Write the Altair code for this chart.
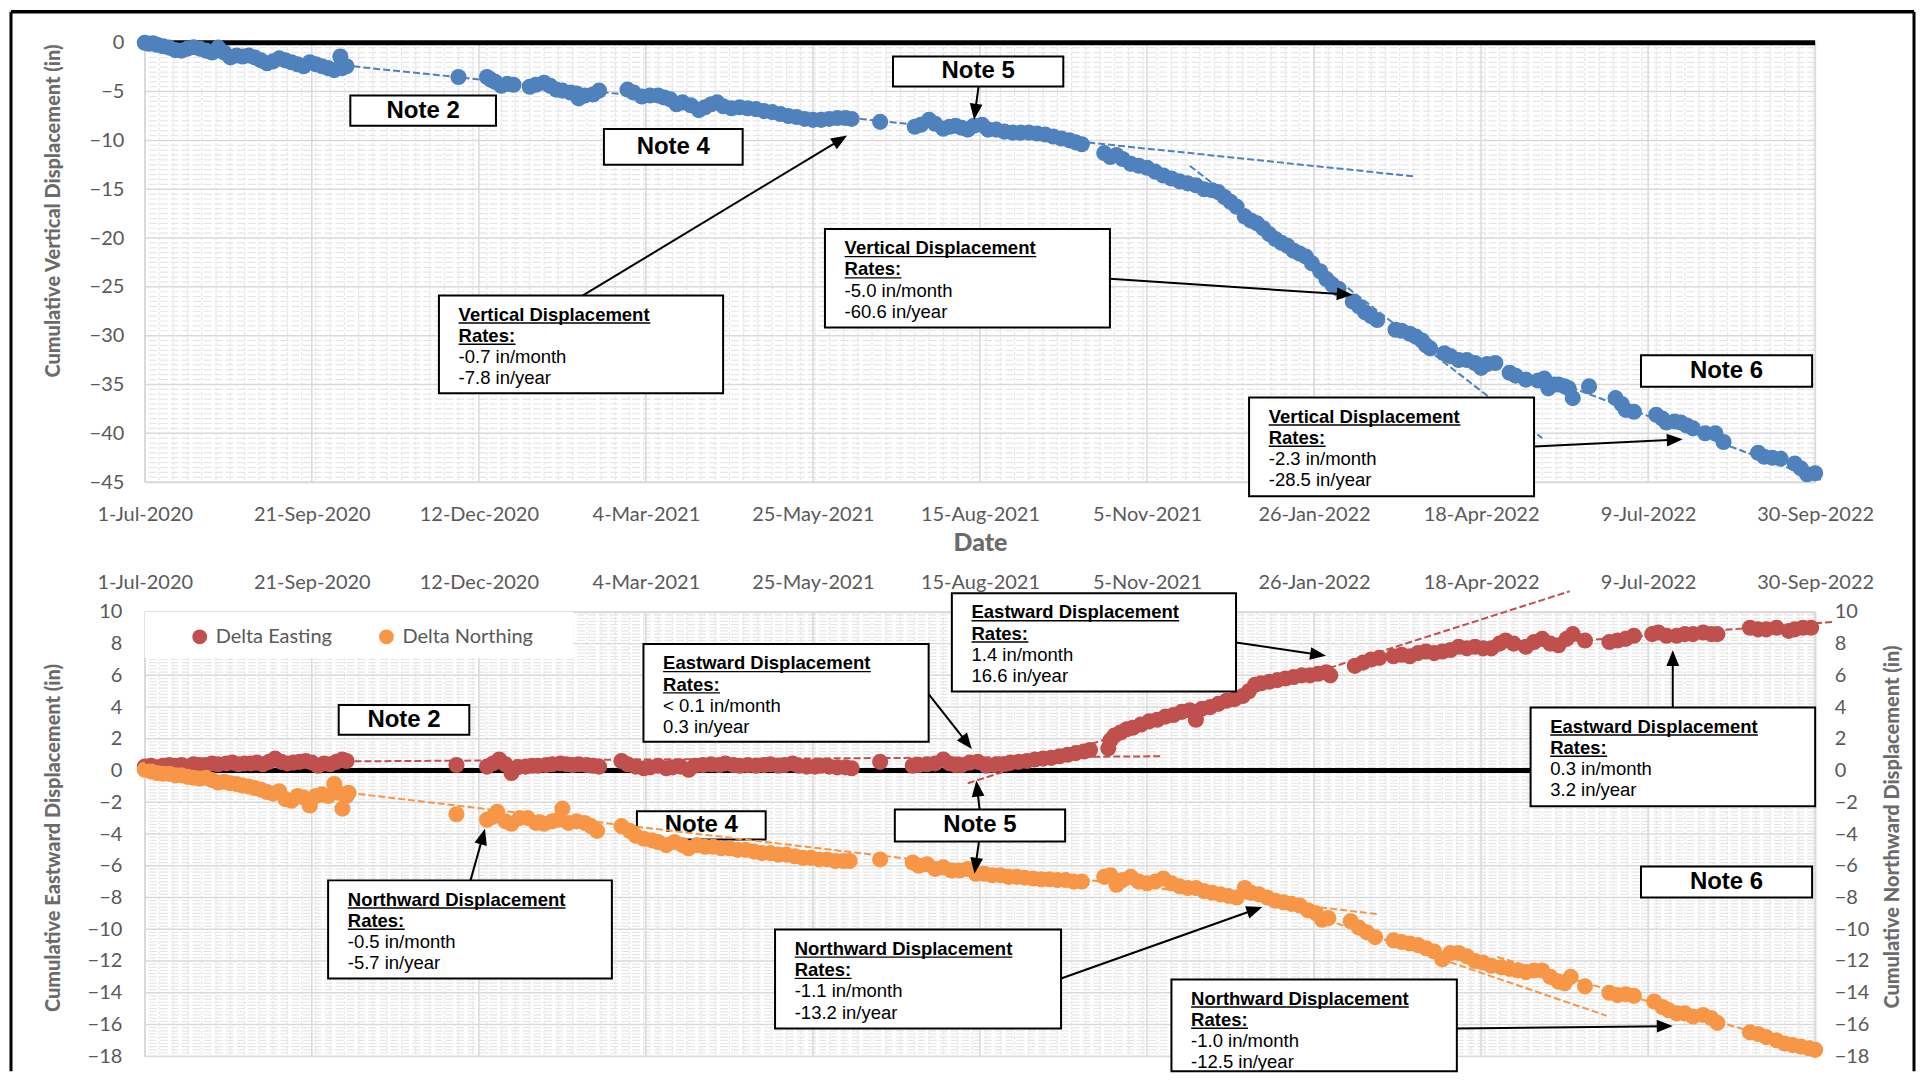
import json
import math
import altair as alt
import pandas as pd

# ------------------------------------------------------------------ data
# x = days since 1-Jul-2020, y = cumulative displacement (inches)
tick_days = [0, 82, 164, 246, 328, 410, 492, 574, 656, 738, 820]
tick_labels = ["1-Jul-2020", "21-Sep-2020", "12-Dec-2020", "4-Mar-2021", "25-May-2021",
               "15-Aug-2021", "5-Nov-2021", "26-Jan-2022", "18-Apr-2022", "9-Jul-2022",
               "30-Sep-2022"]

vert_pts = [
    (0, 0.0), (2, -0.1), (4, -0.05), (6, -0.2), (9, -0.35), (12, -0.5), (15, -0.75), (18, -0.8),
    (21, -0.6), (24, -0.45), (27, -0.6), (30, -0.8), (33, -1.0), (36, -0.5), (39, -1.0), (42, -1.5),
    (45, -1.3), (48, -1.4), (51, -1.3), (54, -1.5), (57, -1.8), (60, -2.1), (63, -1.9), (66, -1.6),
    (69, -1.8), (72, -2.0), (75, -2.2), (78, -2.4), (81, -2.0), (84, -2.2), (87, -2.4), (90, -2.6),
    (93, -2.8), (96, -1.4), (97, -2.6), (99, -2.4),
    (154, -3.5), (168, -3.5), (170, -3.8), (172, -4.0), (175, -4.4), (178, -4.2), (181, -4.3),
    (189, -4.5), (192, -4.3), (196, -4.1), (199, -4.4), (202, -4.8), (205, -4.9), (209, -5.1),
    (212, -5.2), (213, -5.7), (216, -5.4), (220, -5.3), (223, -4.9),
    (237, -4.8), (240, -5.1), (244, -5.5), (248, -5.4), (252, -5.4), (255, -5.6), (258, -5.8),
    (261, -6.3), (264, -6.1), (268, -6.4), (272, -6.9), (275, -6.6), (278, -6.3), (281, -6.1),
    (284, -6.5), (288, -6.7), (292, -6.6), (296, -6.7), (300, -6.8), (304, -7.0), (308, -7.1),
    (312, -7.3), (316, -7.5), (320, -7.6), (324, -7.8), (328, -7.9), (332, -7.9), (336, -7.8),
    (340, -7.7), (344, -7.7), (347, -7.8),
    (361, -8.1), (378, -8.6), (381, -8.4), (385, -7.9), (388, -8.3), (392, -8.8), (395, -8.6),
    (398, -8.5), (401, -8.7), (404, -8.9), (407, -8.5), (411, -8.4), (414, -8.9), (418, -8.9),
    (422, -9.1), (426, -9.2), (430, -9.2), (434, -9.2), (438, -9.3), (442, -9.4), (446, -9.6),
    (450, -9.8), (454, -10.0), (457, -10.2), (460, -10.4),
    (471, -11.3), (474, -11.7), (477, -11.5), (480, -11.9), (484, -12.4), (488, -12.6),
    (492, -12.8), (496, -13.2), (500, -13.6), (504, -13.9), (508, -14.2), (512, -14.4),
    (516, -14.6), (520, -15.0), (524, -15.1), (527, -15.3), (530, -15.8), (533, -16.3),
    (536, -16.8), (540, -17.8), (543, -18.2), (546, -18.5), (549, -19.0), (552, -19.6),
    (555, -20.1), (558, -20.5), (561, -20.8), (564, -21.3), (567, -21.6), (570, -21.9),
    (573, -22.6), (577, -23.4), (580, -24.2), (583, -24.8), (586, -25.2), (593, -26.5),
    (596, -27.0), (599, -27.6), (602, -28.0), (605, -28.4), (614, -29.4), (617, -29.5),
    (621, -29.8), (624, -30.1), (627, -30.5), (629, -31.0), (631, -31.3), (638, -31.8),
    (641, -32.1), (645, -32.5), (649, -32.5), (653, -32.8), (656, -33.3), (659, -32.9),
    (663, -32.8), (670, -33.8), (673, -34.1), (678, -34.5), (684, -34.6), (687, -34.4),
    (689, -35.4), (692, -35.0), (694, -35.0), (697, -35.2), (699, -35.4), (701, -36.4),
    (709, -35.2), (722, -36.4), (725, -37.0), (727, -37.6), (731, -37.8), (742, -38.1),
    (745, -38.5), (747, -38.9), (751, -38.8), (754, -38.9), (757, -39.2), (760, -39.5),
    (766, -40.0), (771, -40.0), (775, -40.9), (792, -42.0), (795, -42.4), (799, -42.5),
    (803, -42.6), (810, -43.1), (813, -43.6), (816, -44.2), (820, -44.1)]

east_pts = [
    (0, 0.25), (3, 0.3), (6, 0.2), (9, 0.3), (12, 0.35), (15, 0.3), (18, 0.35), (21, 0.25),
    (24, 0.4), (27, 0.35), (30, 0.35), (33, 0.45), (36, 0.4), (40, 0.45), (43, 0.5), (46, 0.4),
    (49, 0.45), (52, 0.45), (55, 0.5), (58, 0.4), (61, 0.55), (64, 0.75), (67, 0.55), (70, 0.45),
    (73, 0.5), (76, 0.55), (79, 0.6), (82, 0.5), (85, 0.3), (88, 0.45), (91, 0.4), (94, 0.55),
    (97, 0.7), (99, 0.6),
    (153, 0.35), (168, 0.25), (171, 0.45), (174, 0.7), (177, 0.4), (180, -0.15), (183, 0.2),
    (187, 0.25), (190, 0.3), (193, 0.3), (197, 0.35), (200, 0.4), (204, 0.45), (207, 0.4),
    (210, 0.35), (213, 0.4), (217, 0.35), (220, 0.3), (223, 0.25),
    (234, 0.6), (237, 0.4), (241, 0.25), (245, 0.15), (248, 0.2), (252, 0.3), (256, 0.15),
    (259, 0.2), (263, 0.25), (267, 0.05), (270, 0.3), (274, 0.35), (278, 0.4), (282, 0.35),
    (285, 0.45), (289, 0.35), (292, 0.3), (296, 0.35), (300, 0.3), (304, 0.35), (307, 0.4),
    (311, 0.3), (314, 0.35), (318, 0.45), (321, 0.3), (325, 0.25), (329, 0.25), (332, 0.3),
    (336, 0.25), (340, 0.2), (344, 0.2), (347, 0.15),
    (361, 0.55), (377, 0.3), (380, 0.35), (384, 0.4), (388, 0.45), (392, 0.7), (395, 0.45),
    (398, 0.35), (401, 0.35), (405, 0.5), (409, 0.55), (413, 0.3), (417, 0.35), (421, 0.4),
    (425, 0.5), (429, 0.55), (433, 0.6), (437, 0.7), (441, 0.75), (445, 0.8), (449, 0.9),
    (453, 1.0), (457, 1.1), (461, 1.2), (464, 1.3),
    (473, 1.4), (474, 1.9), (476, 2.2), (479, 2.4), (482, 2.6), (485, 2.7), (489, 2.9),
    (493, 3.1), (497, 3.2), (501, 3.4), (505, 3.5), (509, 3.7), (513, 3.8), (516, 3.2),
    (519, 3.9), (523, 4.0), (527, 4.2), (531, 4.4), (535, 4.5), (539, 4.7), (542, 5.0),
    (545, 5.4), (548, 5.5), (552, 5.6), (556, 5.7), (560, 5.8), (564, 5.9), (568, 6.0),
    (572, 6.0), (576, 6.1), (580, 6.2), (582, 6.0),
    (594, 6.6), (598, 6.8), (602, 7.0), (606, 7.1), (613, 7.2), (617, 7.3), (621, 7.2),
    (625, 7.4), (629, 7.5), (633, 7.4), (637, 7.5), (641, 7.6), (645, 7.8), (649, 7.7),
    (653, 7.8), (657, 7.7), (661, 7.7), (665, 8.0), (668, 8.2), (672, 8.0), (678, 7.8),
    (682, 8.1), (686, 8.3), (690, 8.0), (694, 7.9), (698, 8.3), (701, 8.6), (707, 8.2),
    (719, 8.1), (723, 8.2), (727, 8.3), (731, 8.5), (740, 8.6), (743, 8.7), (747, 8.5),
    (752, 8.5), (756, 8.6), (760, 8.6), (765, 8.7), (769, 8.6), (772, 8.6), (788, 9.0),
    (792, 8.9), (796, 8.9), (801, 9.0), (807, 8.8), (810, 8.9), (814, 9.0), (818, 9.0)]

north_pts = [
    (0, 0.05), (3, -0.05), (6, -0.15), (9, -0.2), (12, -0.2), (15, -0.3), (18, -0.3), (21, -0.4),
    (24, -0.45), (27, -0.5), (30, -0.45), (33, -0.6), (36, -0.75), (39, -0.7), (42, -0.8),
    (45, -0.85), (48, -0.95), (51, -1.0), (54, -1.1), (57, -1.2), (60, -1.35), (63, -1.45),
    (66, -1.3), (69, -1.8), (72, -1.9), (75, -1.6), (78, -1.7), (81, -2.2), (84, -1.6),
    (87, -1.5), (90, -1.6), (93, -0.85), (95, -1.4), (97, -2.4), (99, -1.6), (100, -1.4),
    (153, -2.75), (168, -3.1), (171, -2.9), (173, -2.6), (177, -3.2), (180, -3.35), (184, -3.0),
    (188, -3.0), (192, -3.3), (196, -3.35), (200, -3.2), (203, -3.1), (205, -2.4), (208, -3.3),
    (212, -3.2), (216, -3.3), (219, -3.5), (222, -3.8),
    (234, -3.5), (238, -3.8), (241, -4.1), (245, -4.3), (249, -4.4), (252, -4.5), (256, -4.7),
    (260, -4.5), (264, -4.7), (267, -4.9), (271, -4.7), (275, -4.8), (279, -4.8), (283, -4.9),
    (287, -4.9), (291, -5.0), (295, -5.0), (299, -5.1), (303, -5.2), (307, -5.2), (311, -5.3),
    (315, -5.3), (319, -5.4), (323, -5.5), (327, -5.5), (331, -5.6), (335, -5.6), (339, -5.7),
    (343, -5.7), (346, -5.7),
    (361, -5.6), (377, -5.8), (380, -6.0), (384, -5.9), (388, -6.2), (392, -6.1), (396, -6.3),
    (400, -6.3), (404, -6.2), (408, -6.5), (412, -6.5), (416, -6.6), (420, -6.6), (424, -6.7),
    (428, -6.7), (432, -6.75), (436, -6.8), (440, -6.85), (444, -6.85), (448, -6.9),
    (452, -6.9), (456, -7.0), (460, -7.0),
    (471, -6.7), (474, -6.6), (477, -7.2), (480, -6.9), (484, -6.7), (488, -7.0), (492, -7.1),
    (496, -7.0), (500, -6.8), (504, -7.1), (508, -7.3), (512, -7.4), (516, -7.4), (520, -7.6),
    (524, -7.7), (528, -7.8), (532, -7.9), (536, -8.0), (540, -7.4), (543, -7.7), (547, -7.8),
    (551, -8.0), (555, -8.2), (559, -8.3), (563, -8.4), (567, -8.5), (571, -8.8), (575, -9.0),
    (578, -9.4), (581, -9.3), (592, -9.5), (596, -9.9), (600, -10.2), (604, -10.5),
    (613, -10.7), (617, -10.8), (621, -10.9), (625, -11.0), (629, -11.2), (633, -11.4),
    (637, -11.9), (641, -11.5), (645, -11.5), (649, -11.7), (653, -12.0), (657, -12.1),
    (661, -12.3), (666, -12.4), (670, -12.5), (674, -12.6), (678, -12.7), (682, -12.6),
    (686, -12.6), (690, -13.0), (694, -13.3), (697, -13.4), (700, -13.0), (707, -13.6),
    (719, -14.0), (723, -14.15), (727, -14.1), (731, -14.2), (741, -14.55), (745, -14.9),
    (748, -15.1), (752, -15.3), (756, -15.3), (760, -15.5), (765, -15.4), (769, -15.6),
    (772, -15.9), (788, -16.5), (792, -16.6), (796, -16.8), (801, -17.0), (805, -17.2),
    (809, -17.3), (813, -17.4), (817, -17.5), (820, -17.6)]

# trend lines: (start day, start value, end day, end value)
vert_trends = [(0, -0.2, 624, -13.7), (513, -12.6, 686, -40.5), (700, -35.3, 823, -44.8)]
east_trends = [(0, 0.5, 499, 0.9), (404, -0.8, 699.5, 11.3), (600, 7.2, 829, 9.37)]
north_trends = [(100, -1.4, 606, -9.06), (548, -8.0, 717.6, -15.45), (664, -11.75, 822, -17.7)]

# annotation anchors in data coordinates
notes_top = [("Note 2", 100.9, 172.4, -5.39, -8.49), ("Note 4", 225.4, 293.5, -8.84, -12.5),
             ("Note 5", 367.3, 450.9, -1.40, -4.48), ("Note 6", 734.5, 818.5, -32.0, -35.24)]
notes_bot_under = [("Note 4", 241.6, 304.8, -2.56, -4.34)]
notes_bot = [("Note 2", 95.2, 159.3, 4.13, 2.26), ("Note 5", 368.2, 451.8, -2.45, -4.47),
             ("Note 6", 734.5, 818.5, -6.04, -8.0)]

callouts_top = [
    (144.4, 283.9, -25.88, -35.89, "Vertical Displacement", "-0.7 in/month", "-7.8 in/year"),
    (333.9, 473.8, -19.08, -29.16, "Vertical Displacement", "-5.0 in/month", "-60.6 in/year"),
    (542.1, 682.0, -36.33, -46.45, "Vertical Displacement", "-2.3 in/month", "-28.5 in/year")]
callouts_bot = [
    (244.8, 384.8, 7.97, 1.82, "Eastward Displacement", "< 0.1 in/month", "0.3 in/year"),
    (396.2, 535.7, 11.18, 4.99, "Eastward Displacement", "1.4 in/month", "16.6 in/year"),
    (680.3, 820.0, 3.98, -2.25, "Eastward Displacement", "0.3 in/month", "3.2 in/year"),
    (90.0, 229.3, -6.92, -13.1, "Northward Displacement", "-0.5 in/month", "-5.7 in/year"),
    (309.4, 449.8, -10.02, -16.25, "Northward Displacement", "-1.1 in/month", "-13.2 in/year"),
    (504.0, 644.1, -13.16, -18.95, "Northward Displacement", "-1.0 in/month", "-12.5 in/year")]

arrows_top = [(409.3, -4.48, 407.1, -7.88), (215.1, -25.88, 344.8, -9.51),
              (473.8, -24.18, 593.0, -25.82), (682.0, -41.35, 755.0, -40.62)]
arrows_bot = [(409.8, -2.45, 408.2, -0.63), (409.5, -4.47, 407.3, -6.50),
              (384.8, 4.82, 406.0, 1.36), (535.7, 8.07, 579.9, 7.23),
              (750.1, 3.98, 750.1, 7.59), (159.9, -6.92, 167.0, -3.67),
              (449.8, -13.1, 548.6, -8.6), (644.1, -16.25, 750.1, -16.1)]

# ------------------------------------------------------------------ layout / style
W, HT, HB = 1673, 440, 445
GAP = 130
XMAX = 820
PXD = W / XMAX
PXV_T = HT / 45.0
PXV_B = HB / 28.0

BLUE, RED, ORANGE = "#4f81bd", "#c0504d", "#f79646"
GMAJ, GMIN = "#d9d9d9", "#e6e6e6"
LABEL, TITLE = "#595959", "#6b6b6b"
AXFONT = "Lato"
NOTEFONT = "Liberation Sans"
DOT = 260
UL_W = {"Vertical Displacement": 192, "Eastward Displacement": 208,
        "Northward Displacement": 218, "Rates:": 57}

xscale = alt.Scale(domain=[0, XMAX], nice=False, zero=False)
yscale_t = alt.Scale(domain=[-45, 0], nice=False, zero=False)
yscale_b = alt.Scale(domain=[-18, 10], nice=False, zero=False)
label_expr = json.dumps(tick_labels) + "[round(datum.value / 82)]"

ax_common = dict(grid=False, ticks=False, domainColor=GMAJ, domainWidth=1.5,
                 labelFont=AXFONT, labelFontSize=20, labelColor=LABEL)
xaxis_top_chart = alt.Axis(values=tick_days, labelExpr=label_expr, orient="bottom",
                           labelFlush=False, labelOverlap=False, labelBound=False,
                           labelPadding=22, title="Date", titleFont=AXFONT, titleFontSize=25,
                           titleFontWeight=900, titleColor=TITLE, titleY=69,
                           titleBaseline="alphabetic", **ax_common)
xaxis_bot_chart = alt.Axis(values=tick_days, labelExpr=label_expr, orient="top",
                           labelFlush=False, labelOverlap=False, labelBound=False,
                           labelPadding=19, title=None, **ax_common)
ytitle = dict(titleFont=AXFONT, titleFontSize=20, titleFontWeight=900, titleColor=TITLE,
              titleAngle=270, titleBaseline="middle", titleAlign="center")
yaxis_top = alt.Axis(values=list(range(-45, 1, 5)), orient="left", labelPadding=21,
                     title="Cumulative Vertical Displacement (in)", titleX=-91, titleY=168,
                     **ytitle, **ax_common)
yaxis_left = alt.Axis(values=list(range(-18, 11, 2)), orient="left", labelPadding=23,
                      title="Cumulative Eastward Displacement (in)", titleX=-91, titleY=226,
                      **ytitle, **ax_common)
yaxis_right = alt.Axis(values=list(range(-18, 11, 2)), orient="right", labelPadding=19,
                       title="Cumulative Northward Displacement (in)", titleX=77, titleY=215,
                       **ytitle, **ax_common)


def make_enc(xaxis, yscale, default_yaxis, shared):
    def X(f):
        return alt.X(f, type="quantitative", scale=xscale, axis=xaxis)

    def Y(f, axis="default"):
        ax = default_yaxis if (shared or axis == "default") else axis
        if ax is None:
            return alt.Y(f, type="quantitative", scale=yscale, axis=None)
        return alt.Y(f, type="quantitative", scale=yscale, axis=ax)
    return X, Y


def pts_df(pts, series=None):
    df = pd.DataFrame(pts, columns=["day", "val"])
    if series:
        df["series"] = series
    return df


def seg_df(segs):
    return pd.DataFrame(segs, columns=["d0", "v0", "d1", "v1"])


def note_df(notes):
    df = pd.DataFrame(notes, columns=["label", "d0", "d1", "v0", "v1"])
    df["dc"] = (df.d0 + df.d1) / 2
    df["vc"] = (df.v0 + df.v1) / 2
    return df


def callout_df(cs):
    df = pd.DataFrame(cs, columns=["d0", "d1", "v0", "v1", "l0", "l2", "l3"])
    df["l1"] = "Rates:"
    df["u0"] = df.d0 + df.l0.map(UL_W) / PXD
    df["u1"] = df.d0 + UL_W["Rates:"] / PXD
    return df


def arrow_df(arrows, pxv):
    rows = []
    for d0, v0, d1, v1 in arrows:
        sx, sy = (d1 - d0) * PXD, -(v1 - v0) * pxv
        L = math.hypot(sx, sy)
        f = max(L - 9, 0) / L
        rows.append(dict(d0=d0, v0=v0, e_d=d0 + (d1 - d0) * f, e_v=v0 + (v1 - v0) * f,
                         t_d=d1, t_v=v1, ang=math.degrees(math.atan2(sx, -sy)) % 360))
    return pd.DataFrame(rows)


def grid_layers(X, Y, minor_step, major_step, ymin, ymax):
    n = int(round((ymax - ymin) / minor_step))
    ratio = int(round(major_step / minor_step))
    minor_y = [round(ymin + minor_step * i, 3) for i in range(n + 1) if i % ratio]
    major_y = [round(ymin + minor_step * i, 3) for i in range(n + 1) if i % ratio == 0]
    minor_x = [d for d in range(7, XMAX, 7)]
    return [
        alt.Chart(pd.DataFrame({"day": minor_x})).mark_rule(
            color=GMIN, strokeWidth=1.2, strokeDash=[3, 2]).encode(x=X("day")),
        alt.Chart(pd.DataFrame({"val": minor_y})).mark_rule(
            color=GMIN, strokeWidth=1.2, strokeDash=[8, 3]).encode(y=Y("val", None)),
        alt.Chart(pd.DataFrame({"day": tick_days})).mark_rule(
            color=GMAJ, strokeWidth=1.5).encode(x=X("day")),
        alt.Chart(pd.DataFrame({"val": major_y})).mark_rule(
            color=GMAJ, strokeWidth=1.5).encode(y=Y("val", None)),
    ]


def zero_layer(X, Y):
    return alt.Chart(pd.DataFrame({"d0": [0], "d1": [XMAX], "v": [0]})).mark_rule(
        color="black", strokeWidth=5).encode(x=X("d0"), x2="d1", y=Y("v", None))


def trend_layer(X, Y, segs, color):
    return alt.Chart(seg_df(segs)).mark_rule(
        color=color, strokeWidth=2, strokeDash=[7, 3]).encode(
        x=X("d0"), y=Y("v0", None), x2="d1", y2="v1")


def note_layers(X, Y, notes):
    df = note_df(notes)
    return [
        alt.Chart(df).mark_rect(fill="white", stroke="black", strokeWidth=2).encode(
            x=X("d0"), x2="d1", y=Y("v0", None), y2="v1"),
        alt.Chart(df).mark_text(font=NOTEFONT, fontSize=24, fontWeight="bold", color="black",
                                align="center", baseline="middle").encode(
            x=X("dc"), y=Y("vc", None), text="label"),
    ]


def callout_layers(X, Y, cs):
    df = callout_df(cs)
    out = [alt.Chart(df).mark_rect(fill="white", stroke="black", strokeWidth=2).encode(
        x=X("d0"), x2="d1", y=Y("v0", None), y2="v1")]
    for i in range(4):
        out.append(alt.Chart(df).mark_text(
            font=NOTEFONT, fontSize=18.5, fontWeight="bold" if i < 2 else "normal",
            color="black", align="left", baseline="alphabetic",
            dx=19.7, dy=25.2 + 21.3 * i).encode(x=X("d0"), y=Y("v0", None), text=f"l{i}"))
    for i in range(2):
        off = 27.6 + 21.3 * i
        out.append(alt.Chart(df).mark_rule(
            color="black", strokeWidth=1.4, xOffset=19.7, x2Offset=19.7,
            yOffset=off, y2Offset=off).encode(x=X("d0"), x2=f"u{i}", y=Y("v0", None)))
    return out


def arrow_layers(X, Y, arrows, pxv):
    df = arrow_df(arrows, pxv)
    return [
        alt.Chart(df).mark_rule(color="black", strokeWidth=2).encode(
            x=X("d0"), y=Y("v0", None), x2="e_d", y2="e_v"),
        alt.Chart(df).mark_point(shape="M0,0L0.4,1L-0.4,1Z", filled=True, size=1024,
                                 color="black", opacity=1, strokeWidth=0).encode(
            x=X("t_d"), y=Y("t_v", None), angle=alt.Angle("ang:Q", scale=None)),
    ]


# ------------------------------------------------------------------ top panel
Xt, Yt = make_enc(xaxis_top_chart, yscale_t, yaxis_top, True)
top_layers = grid_layers(Xt, Yt, 0.5, 5, -45, 0)
top_layers += [
    zero_layer(Xt, Yt),
    alt.Chart(pts_df(vert_pts)).mark_circle(size=DOT, opacity=1, color=BLUE).encode(
        x=Xt("day"), y=Yt("val")),
    trend_layer(Xt, Yt, vert_trends, BLUE),
]
top_layers += note_layers(Xt, Yt, notes_top)
top_layers += callout_layers(Xt, Yt, callouts_top)
top_layers += arrow_layers(Xt, Yt, arrows_top, PXV_T)
# outer frame of the figure (decoration)
FR_L, FR_T, FR_R, FR_B = -134, -31, 1772, 1030
top_layers += [
    alt.Chart(pd.DataFrame({"k": [0]})).mark_rule(color="black", strokeWidth=3.5).encode(
        x=alt.value(FR_L), x2=alt.value(FR_R), y=alt.value(FR_T)),
    alt.Chart(pd.DataFrame({"k": [0]})).mark_rule(color="black", strokeWidth=3).encode(
        x=alt.value(FR_L), y=alt.value(FR_T), y2=alt.value(FR_B)),
    alt.Chart(pd.DataFrame({"k": [0]})).mark_rule(color="black", strokeWidth=3).encode(
        x=alt.value(FR_R), y=alt.value(FR_T), y2=alt.value(FR_B)),
]
top = alt.layer(*top_layers).properties(width=W, height=HT)

# ------------------------------------------------------------------ bottom panel
Xb, Yb = make_enc(xaxis_bot_chart, yscale_b, None, False)
color = alt.Color("series:N",
                  scale=alt.Scale(domain=["Delta Easting", "Delta Northing"], range=[RED, ORANGE]),
                  legend=alt.Legend(orient="none", legendX=45, legendY=15 + HT + GAP,
                                    direction="horizontal",
                                    title=None, labelFont=AXFONT, labelFontSize=20,
                                    labelColor=LABEL, symbolType="circle", symbolSize=220,
                                    symbolStrokeWidth=0, symbolOpacity=1, columnPadding=44,
                                    labelOffset=6, padding=0))
bot_layers = grid_layers(Xb, Yb, 0.2, 2, -18, 10)
bot_layers += [
    alt.Chart(pd.DataFrame({"d0": [0], "d1": [210.5], "v0": [10], "v1": [7.1]})).mark_rect(
        fill="white").encode(x=Xb("d0"), x2="d1", y=Yb("v0"), y2="v1"),
    zero_layer(Xb, Yb),
]
bot_layers += note_layers(Xb, Yb, notes_bot_under)
bot_layers += [
    alt.Chart(pts_df(east_pts, "Delta Easting")).mark_circle(size=DOT, opacity=1).encode(
        x=Xb("day"), y=Yb("val", yaxis_left), color=color),
    alt.Chart(pts_df(north_pts, "Delta Northing")).mark_circle(size=DOT, opacity=1).encode(
        x=Xb("day"), y=Yb("val", yaxis_right), color=color),
    trend_layer(Xb, Yb, east_trends, RED),
    trend_layer(Xb, Yb, north_trends, ORANGE),
]
bot_layers += note_layers(Xb, Yb, notes_bot)
bot_layers += callout_layers(Xb, Yb, callouts_bot)
bot_layers += arrow_layers(Xb, Yb, arrows_bot, PXV_B)
bottom = alt.layer(*bot_layers).resolve_scale(y="independent").properties(width=W, height=HB)

chart = alt.vconcat(top, bottom, spacing=GAP, bounds="flush").properties(
    padding={"left": 0, "top": 0, "right": 0, "bottom": 0}
).configure_view(stroke=None).configure(background="white")

chart.save("out.html", embed_options={"renderer": "svg", "actions": False})
